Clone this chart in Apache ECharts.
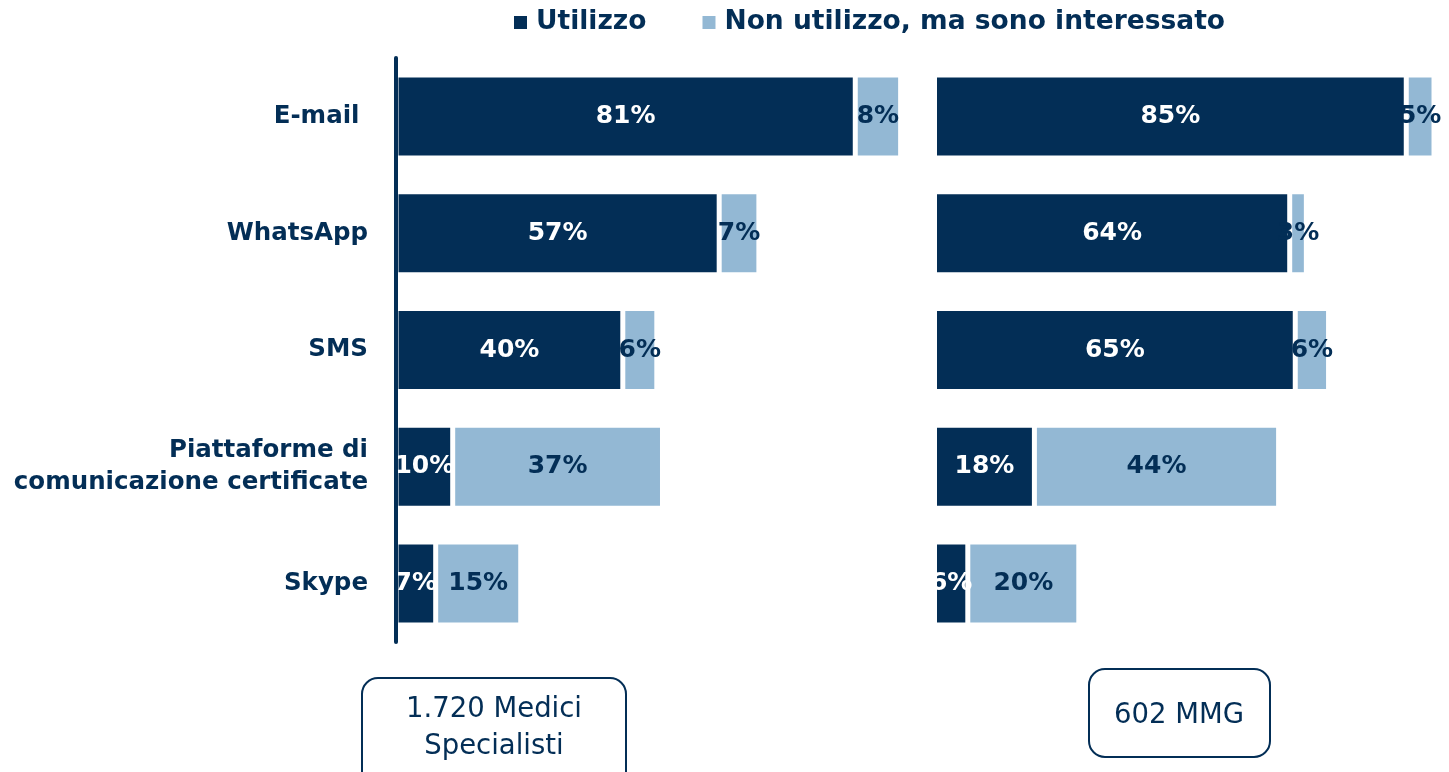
<!DOCTYPE html>
<html lang="it">
<head>
    <meta charset="UTF-8">
    <title>Canali di comunicazione</title>
    <script src="https://cdn.jsdelivr.net/npm/echarts@6/dist/echarts.min.js"></script>
    <style>
        html, body { margin: 0; padding: 0; background: #fff; }
        #chart { width: 1449px; height: 772px; }
    </style>
</head>
<body>
<div id="chart"></div>
<script>
    // dati
    var categories = ['E-mail ', 'WhatsApp', 'SMS', 'Piattaforme di\ncomunicazione certificate', 'Skype'];
    var seriesNames = ['Utilizzo', 'Non utilizzo, ma sono interessato'];
    var specUse = [81, 57, 40, 10, 7];
    var specInterest = [8, 7, 6, 37, 15];
    var mmgUse = [85, 64, 65, 18, 6];
    var mmgInterest = [5, 3, 6, 44, 20];
    var panelTitles = ['1.720 Medici\nSpecialisti', '602 MMG'];

    var NAVY = '#032E56';
    var LIGHT = '#93B8D4';
    var FONT = 'DejaVu Sans';

    function barSeries(name, data, idx, color, labelColor) {
        return {
            name: name,
            type: 'bar',
            stack: 'p' + idx,
            xAxisIndex: idx,
            yAxisIndex: idx,
            barWidth: 83,
            data: data,
            // il bordo bianco crea lo stacco tra i due segmenti
            itemStyle: { color: color, borderColor: '#fff', borderWidth: 2.5 },
            label: {
                show: true,
                position: 'inside',
                formatter: '{c}%',
                color: labelColor,
                fontFamily: FONT,
                fontWeight: 'bold',
                fontSize: 25
            },
            emphasis: { disabled: true }
        };
    }

    var chart = echarts.init(document.getElementById('chart'));

    var option = {
        backgroundColor: '#fff',
        animation: false,
        legend: {
            left: 509,
            top: 4,
            itemWidth: 13,
            itemHeight: 13,
            itemGap: 56,
            icon: 'rect',
            itemStyle: { borderWidth: 0 },
            data: seriesNames,
            textStyle: {
                color: NAVY, fontFamily: FONT, fontWeight: 'bold', fontSize: 26.5,
                padding: [0, 0, 0, 4]
            }
        },
        grid: [
            { left: 396, top: 58, width: 567, height: 584 },
            { left: 934.5, top: 58, width: 514.5, height: 584 }
        ],
        xAxis: [
            { type: 'value', gridIndex: 0, min: 0, max: 100, show: false },
            { type: 'value', gridIndex: 1, min: 0, max: 92.7, show: false }
        ],
        yAxis: [
            {
                type: 'category', gridIndex: 0, inverse: true, data: categories, z: 10,
                axisLine: { show: true, lineStyle: { color: NAVY, width: 4 } },
                axisTick: { show: false },
                axisLabel: {
                    margin: 28, color: NAVY, fontFamily: FONT, fontWeight: 'bold',
                    fontSize: 24.5, lineHeight: 32, align: 'right'
                }
            },
            {
                type: 'category', gridIndex: 1, inverse: true, data: categories,
                axisLine: { show: false }, axisTick: { show: false }, axisLabel: { show: false }
            }
        ],
        series: [
            barSeries(seriesNames[0], specUse, 0, NAVY, '#fff'),
            barSeries(seriesNames[1], specInterest, 0, LIGHT, NAVY),
            barSeries(seriesNames[0], mmgUse, 1, NAVY, '#fff'),
            barSeries(seriesNames[1], mmgInterest, 1, LIGHT, NAVY)
        ],
        graphic: [
            {
                type: 'group', left: 361, top: 677,
                children: [
                    { type: 'rect', shape: { x: 0, y: 0, width: 264, height: 110, r: 16 },
                      style: { fill: '#fff', stroke: NAVY, lineWidth: 2 } },
                    { type: 'text', x: 132, y: 50,
                      style: { text: panelTitles[0], fill: NAVY, font: '27.5px "DejaVu Sans"',
                               align: 'center', verticalAlign: 'middle', lineHeight: 37 } }
                ]
            },
            {
                type: 'group', left: 1088, top: 668,
                children: [
                    { type: 'rect', shape: { x: 0, y: 0, width: 181, height: 88, r: 16 },
                      style: { fill: '#fff', stroke: NAVY, lineWidth: 2 } },
                    { type: 'text', x: 90, y: 47,
                      style: { text: panelTitles[1], fill: NAVY, font: '27.5px "DejaVu Sans"',
                               align: 'center', verticalAlign: 'middle' } }
                ]
            }
        ]
    };

    chart.setOption(option);
</script>
</body>
</html>
